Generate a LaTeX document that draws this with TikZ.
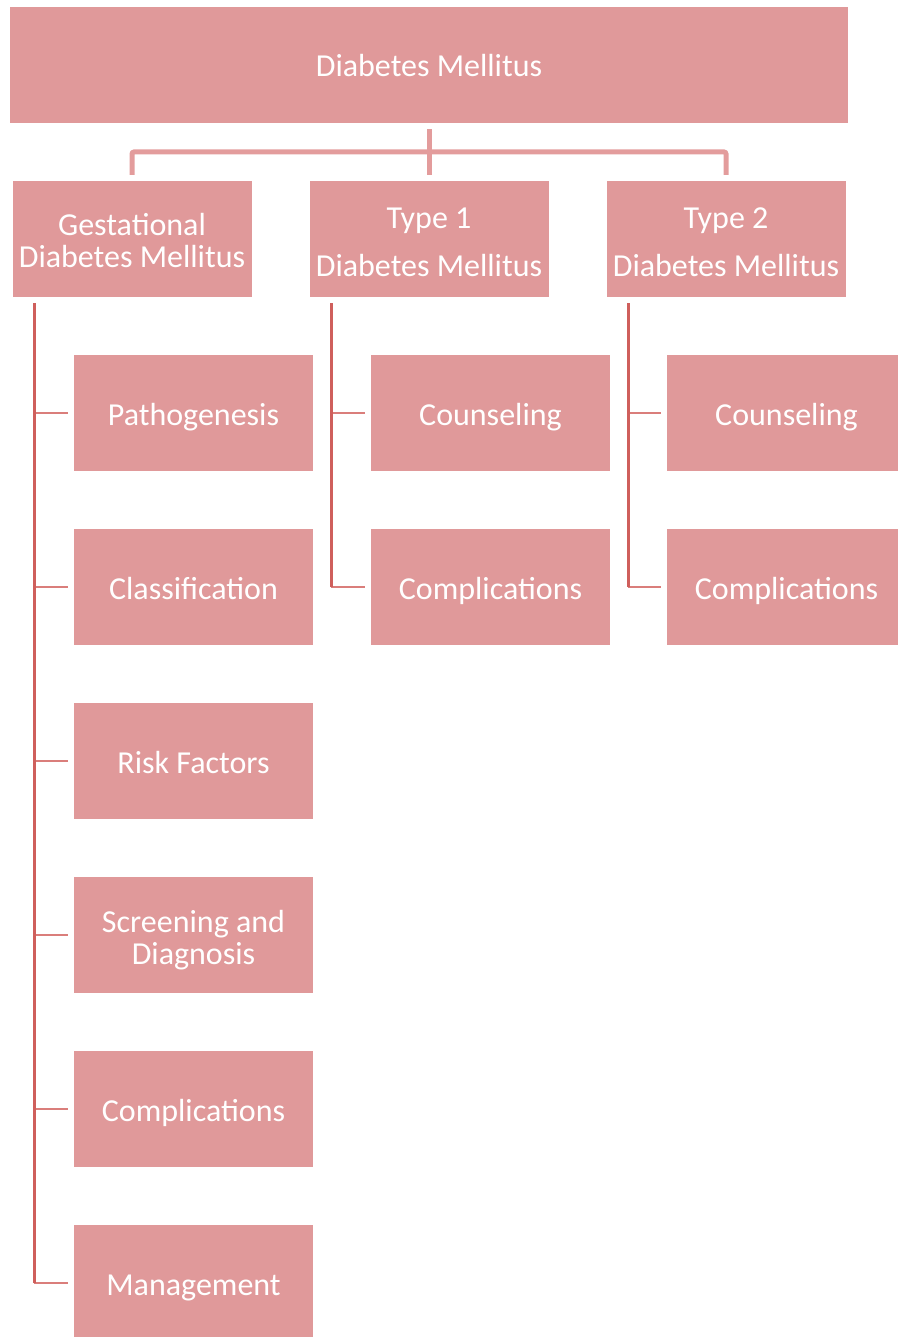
\documentclass[tikz,border=0pt]{standalone}
\usepackage{fontspec}
\setmainfont{Carlito}
\usetikzlibrary{calc}
\definecolor{boxfill}{HTML}{E0999A}
\definecolor{hubline}{HTML}{E39C9C}
\definecolor{stemline}{HTML}{CF5F5C}
\definecolor{tickline}{HTML}{DA7E7B}
% strut that lowers the first line of a two-line label
\newcommand{\firstline}[1]{\rule{0pt}{#1}}
\begin{document}
\begin{tikzpicture}[x=1pt,y=-1pt,
  box/.style={fill=boxfill, draw=none, text=white, inner sep=0pt,
    minimum width=239pt, minimum height=116pt, align=center,
    font=\fontsize{32}{32}\selectfont,
    % fixed line height and depth so every label sits at the same level
    execute at begin node={\rule{0pt}{31pt}},
    execute at end node={\rule[-7pt]{0pt}{7pt}}},
  widebox/.style={box, minimum width=838pt},
  typebox/.style={box, font=\fontsize{32}{48}\selectfont},
  topline/.style={hubline, line width=5pt, rounded corners=2pt},
  stem/.style={stemline, line width=3pt},
  tick/.style={tickline, line width=2pt}]
\useasboundingbox (0,0) rectangle (897,1337);

% root and the three kinds
\node[widebox] (root) at (429,65) {Diabetes Mellitus};
\node[box] (gdm) at (132,239) {\firstline{33pt}Gestational\\Diabetes Mellitus};
\node[typebox] (t1) at (429,239) {\firstline{35pt}Type 1\\Diabetes Mellitus};
\node[typebox] (t2) at (726,239) {\firstline{35pt}Type 2\\Diabetes Mellitus};

% topics under gestational diabetes
\node[box] (gpath) at (193.5,413) {Pathogenesis};
\node[box] (gclass) at (193.5,587) {Classification};
\node[box] (grisk) at (193.5,761) {Risk Factors};
\node[box] (gscreen) at (193.5,935) {\firstline{33pt}Screening and\\Diagnosis};
\node[box] (gcomp) at (193.5,1109) {Complications};
\node[box] (gmgmt) at (193.5,1283) {Management};

% topics under type 1 and type 2
\node[box] (acoun) at (490.5,413) {Counseling};
\node[box] (acomp) at (490.5,587) {Complications};
\node[box] (bcoun) at (786.5,413) {Counseling};
\node[box] (bcomp) at (786.5,587) {Complications};

% hub connector from the root
\coordinate (hub) at ($(root.south)!0.5!(t1.north)$);
\draw[topline] ([yshift=-6pt]root.south) -- ([yshift=6pt]t1.north);
\draw[topline] ([yshift=6pt]gdm.north) |- (hub) -| ([yshift=6pt]t2.north);

% stems down the left of each kind
\coordinate (gstem) at ([xshift=22pt,yshift=-6pt]gdm.south west);
\coordinate (astem) at ([xshift=22pt,yshift=-6pt]t1.south west);
\coordinate (bstem) at ([xshift=22pt,yshift=-6pt]t2.south west);

\foreach \n in {gpath,gclass,grisk,gscreen,gcomp,gmgmt}
  \draw[tick] ([xshift=-6pt]\n.west) -- (\n.west -| gstem);
\draw[stem] (gstem) -- (gstem |- gmgmt.west);

\foreach \n in {acoun,acomp}
  \draw[tick] ([xshift=-6pt]\n.west) -- (\n.west -| astem);
\draw[stem] (astem) -- (astem |- acomp.west);

\foreach \n in {bcoun,bcomp}
  \draw[tick] ([xshift=-6pt]\n.west) -- (\n.west -| bstem);
\draw[stem] (bstem) -- (bstem |- bcomp.west);
\end{tikzpicture}
\end{document}
